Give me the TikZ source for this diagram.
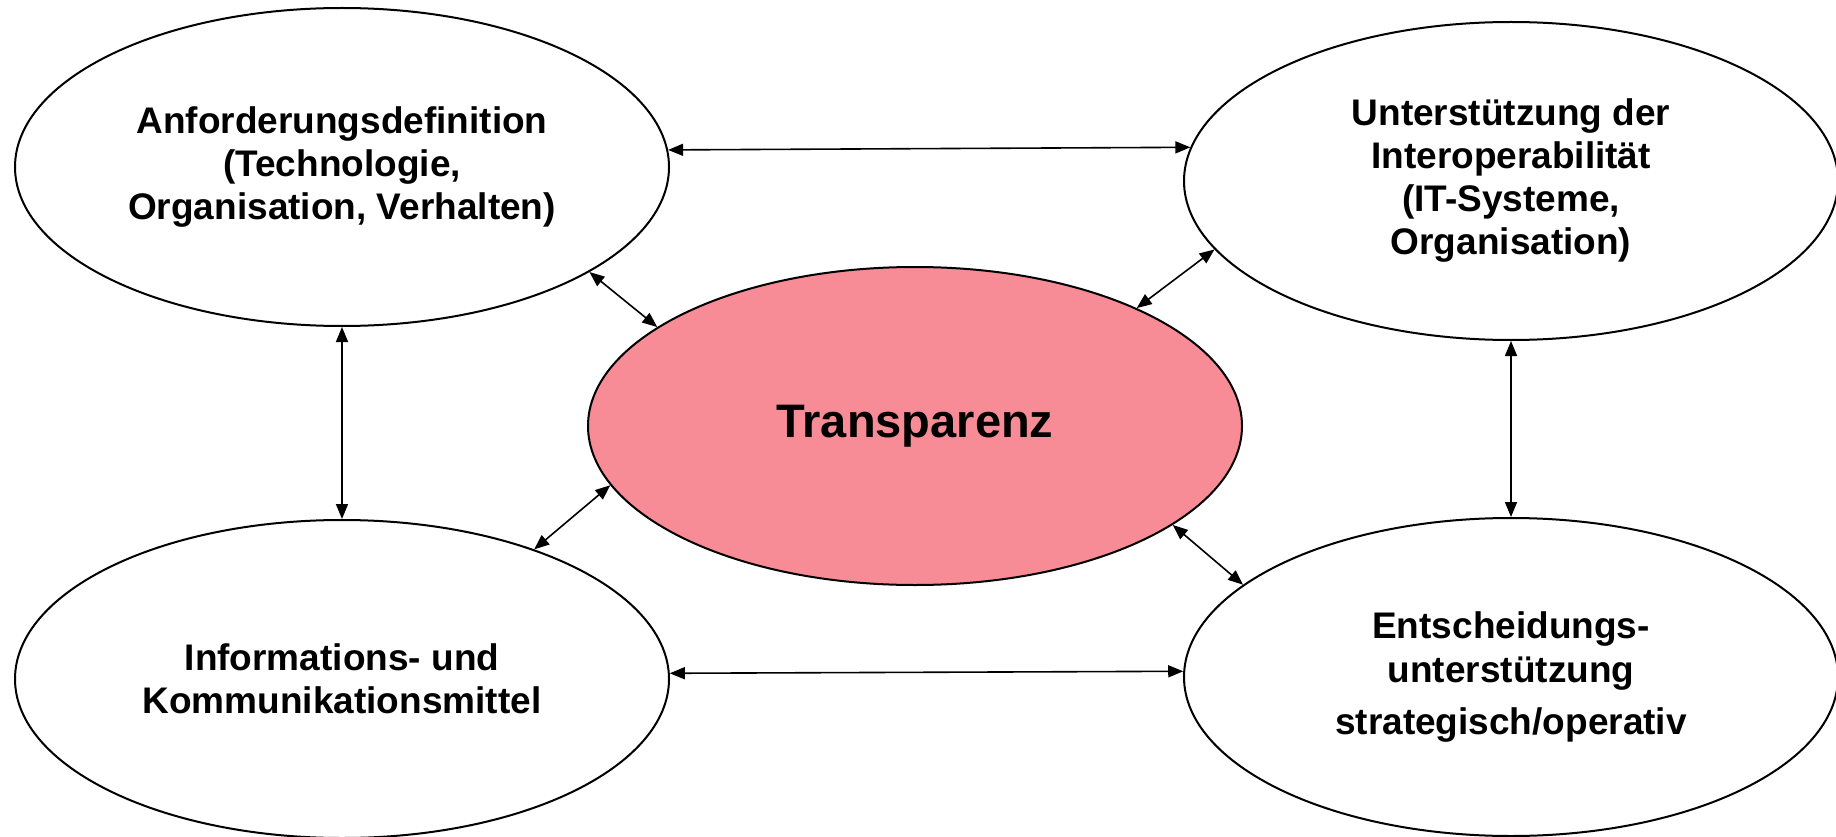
\documentclass[tikz,border=0pt]{standalone}
\usepackage{fontspec}
\setmainfont{Liberation Sans}
\usetikzlibrary{shapes.geometric,arrows.meta}
\definecolor{pinkfill}{RGB}{247,140,150}
\begin{document}
\begin{tikzpicture}[x=1pt,y=-1pt,
  bub/.style={ellipse, draw=black, line width=2pt, fill=white, minimum width=654pt, minimum height=318pt, inner sep=0pt, align=center, font=\bfseries\fontsize{37}{43}\selectfont},
  link/.style={{Triangle[length=15pt,width=12pt]}-{Triangle[length=15pt,width=12pt]}, line width=1.6pt}]
\useasboundingbox (0,0) rectangle (1836,837);
\node[bub] (tl) at (342,167) {Anforderungsdefinition\\(Technologie,\\Organisation, Verhalten)};
\node[bub] (tr) at (1511,181) {Unterstützung der\\Interoperabilität\\(IT-Systeme,\\Organisation)};
\node[bub, fill=pinkfill, font=\bfseries\fontsize{47}{54}\selectfont] (c) at (915,426) {Transparenz};
\node[bub] (bl) at (342,679) {Informations- und\\Kommunikationsmittel};
\node[bub, font=\bfseries\fontsize{37}{44.5}\selectfont] (br) at (1511,677) {Entscheidungs-\\unterstützung\\[7pt]strategisch/operativ};
\draw[link] (tl.3) -- (tr.174);
\draw[link] (bl.1) -- (br.179);
\draw[link] (tl.south) -- (bl.north);
\draw[link] (tr.south) -- (br.north);
\draw[link] (tl.-23) -- (c.159);
\draw[link] (tr.193) -- (c.28);
\draw[link] (bl.34) -- (c.191);
\draw[link] (c.-21) -- (br.161);
\end{tikzpicture}
\end{document}
